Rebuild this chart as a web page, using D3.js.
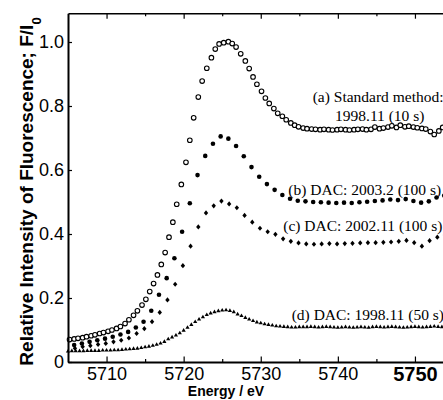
<!DOCTYPE html>
<html><head><meta charset="utf-8">
<script src="https://cdn.jsdelivr.net/npm/d3@7"></script>
<style>html,body{margin:0;padding:0;background:#fff;} svg{display:block;}</style>
</head><body>
<svg id="chart" width="443" height="400"></svg>
<script>
// ---------- DATA ----------
const xTicks = [5710, 5720, 5730, 5740, 5750];
const xMinorTicks = [5715, 5725, 5735, 5745];
const yTicks = [0, 0.2, 0.4, 0.6, 0.8, 1.0];
const yTickLabels = ["0", "0.2", "0.4", "0.6", "0.8", "1.0"];

// (a) Standard method: 1998.11 (10 s) — open circles
const energyA = [5705.2,5705.8,5706.3,5706.9,5707.4,5708.0,5708.5,5709.1,5709.6,5710.2,
  5710.7,5711.3,5711.8,5712.4,5712.9,5713.5,5714.0,5714.6,5715.1,5715.6,
  5716.1,5716.6,5717.1,5717.6,5718.1,5718.6,5719.1,5719.7,5720.3,5720.8,
  5721.3,5721.9,5722.4,5723.0,5723.6,5724.1,5724.6,5725.2,5725.8,5726.3,
  5726.8,5727.4,5728.0,5728.5,5729.0,5729.5,5730.1,5730.6,5731.1,5731.7,
  5732.2,5732.8,5733.3,5733.9,5734.4,5734.9,5735.5,5736.0,5736.6,5737.1,
  5737.7,5738.2,5738.8,5739.3,5739.9,5740.4,5741.0,5741.5,5742.1,5742.6,
  5743.2,5743.7,5744.3,5744.8,5745.4,5745.9,5746.5,5747.0,5747.6,5748.1,
  5748.7,5749.2,5749.8,5750.3,5750.9,5751.4,5752.0,5752.5,5753.1,5753.6];
const valueA = [0.070,0.072,0.074,0.076,0.079,0.082,0.085,0.089,0.092,0.096,
  0.100,0.105,0.111,0.120,0.132,0.146,0.160,0.178,0.196,0.220,
  0.245,0.272,0.305,0.342,0.390,0.437,0.493,0.555,0.624,0.693,
  0.763,0.828,0.878,0.918,0.951,0.978,0.994,0.998,1.001,0.995,
  0.984,0.963,0.941,0.917,0.891,0.868,0.846,0.825,0.808,0.792,
  0.777,0.768,0.757,0.747,0.740,0.735,0.731,0.729,0.728,0.727,
  0.726,0.727,0.726,0.725,0.726,0.727,0.726,0.725,0.726,0.727,
  0.728,0.726,0.727,0.734,0.729,0.731,0.734,0.738,0.733,0.740,
  0.735,0.737,0.734,0.732,0.730,0.728,0.720,0.711,0.722,0.733];

// (b) DAC: 2003.2 (100 s) — filled circles
const energyB = [5705.8,5706.8,5707.8,5708.8,5709.8,5710.8,5711.8,5712.8,5713.8,5714.8,
  5715.8,5716.8,5717.8,5718.8,5719.8,5720.8,5721.8,5722.8,5723.8,5724.8,
  5725.8,5726.8,5727.8,5728.8,5729.8,5730.8,5731.8,5732.8,5733.8,5734.8,
  5735.8,5736.8,5737.8,5738.8,5739.8,5740.8,5741.8,5742.8,5743.8,5744.8,
  5745.8,5746.8,5747.8,5748.8,5749.8,5750.8,5751.8,5752.8,5753.8];
const valueB = [0.053,0.058,0.063,0.068,0.073,0.079,0.086,0.094,0.108,0.126,
  0.160,0.210,0.262,0.324,0.407,0.496,0.584,0.644,0.682,0.705,
  0.698,0.675,0.643,0.609,0.579,0.556,0.538,0.522,0.510,0.504,
  0.502,0.500,0.499,0.498,0.497,0.498,0.497,0.499,0.501,0.503,
  0.505,0.508,0.506,0.509,0.503,0.498,0.502,0.514,0.520];

// (c) DAC: 2002.11 (100 s) — filled diamonds
const energyC = [5705.9,5706.9,5707.9,5708.9,5709.9,5710.9,5711.9,5712.9,5713.9,5714.9,
  5715.9,5716.9,5717.9,5718.9,5719.9,5720.9,5721.9,5722.9,5723.9,5724.9,
  5725.9,5726.9,5727.9,5728.9,5729.9,5730.9,5731.9,5732.9,5733.9,5734.9,
  5735.9,5736.9,5737.9,5738.9,5739.9,5740.9,5741.9,5742.9,5743.9,5744.9,
  5745.9,5746.9,5747.9,5748.9,5749.9,5750.9,5751.9,5752.9,5753.9];
const valueC = [0.043,0.048,0.051,0.055,0.058,0.063,0.068,0.075,0.089,0.104,
  0.126,0.155,0.194,0.243,0.301,0.362,0.422,0.466,0.488,0.503,
  0.494,0.482,0.458,0.437,0.418,0.407,0.399,0.385,0.377,0.372,
  0.369,0.368,0.369,0.370,0.369,0.370,0.371,0.372,0.373,0.373,
  0.374,0.375,0.377,0.380,0.373,0.362,0.379,0.390,0.397];

// (d) DAC: 1998.11 (50 s) — filled triangles
const energyD = [5705.0,5705.5,5706.0,5706.5,5707.0,5707.5,5708.0,5708.5,5709.0,5709.5,
  5710.0,5710.5,5711.0,5711.5,5712.0,5712.5,5713.0,5713.5,5714.0,5714.5,
  5715.0,5715.5,5716.0,5716.5,5717.0,5717.5,5718.0,5718.5,5719.0,5719.5,
  5720.0,5720.5,5721.0,5721.5,5722.0,5722.5,5723.0,5723.5,5724.0,5724.5,
  5725.0,5725.5,5726.0,5726.5,5727.0,5727.5,5728.0,5728.5,5729.0,5729.5,
  5730.0,5730.5,5731.0,5731.5,5732.0,5732.5,5733.0,5733.5,5734.0,5734.5,
  5735.0,5735.5,5736.0,5736.5,5737.0,5737.5,5738.0,5738.5,5739.0,5739.5,
  5740.0,5740.5,5741.0,5741.5,5742.0,5742.5,5743.0,5743.5,5744.0,5744.5,
  5745.0,5745.5,5746.0,5746.5,5747.0,5747.5,5748.0,5748.5,5749.0,5749.5,
  5750.0,5750.5,5751.0,5751.5,5752.0,5752.5,5753.0,5753.5];
const valueD = [0.034,0.035,0.035,0.035,0.035,0.036,0.036,0.036,0.036,0.037,
  0.037,0.037,0.038,0.038,0.039,0.040,0.041,0.042,0.043,0.045,
  0.047,0.049,0.052,0.055,0.059,0.064,0.072,0.078,0.084,0.091,
  0.099,0.108,0.117,0.126,0.134,0.141,0.148,0.153,0.157,0.160,
  0.162,0.163,0.161,0.157,0.150,0.145,0.139,0.134,0.129,0.125,
  0.122,0.119,0.117,0.115,0.113,0.112,0.111,0.110,0.109,0.109,
  0.110,0.110,0.110,0.111,0.110,0.109,0.110,0.111,0.110,0.109,
  0.108,0.109,0.110,0.109,0.108,0.109,0.110,0.109,0.108,0.110,
  0.111,0.110,0.109,0.110,0.111,0.110,0.109,0.108,0.109,0.110,
  0.111,0.110,0.109,0.110,0.111,0.112,0.111,0.110];

const labelA1 = "(a) Standard method:";
const labelA2 = "1998.11 (10 s)";
const labelB = "(b) DAC: 2003.2 (100 s)";
const labelC = "(c) DAC: 2002.11 (100 s)";
const labelD = "(d) DAC: 1998.11 (50 s)";

// ---------- CHART ----------
const W = 443, H = 400;
const svg = d3.select("#chart");
svg.append("rect").attr("width", W).attr("height", H).attr("fill", "#fff");

const x = d3.scaleLinear().domain([5705, 5755]).range([68, 453.5]);
const y = d3.scaleLinear().domain([0, 1.09]).range([362, 13.2]);

const pts = (E, V) => E.map((e, i) => ({ e, v: V[i] }));
const sans = "'Liberation Sans', Arial, Helvetica, sans-serif";
const serif = "'Liberation Serif', 'Times New Roman', serif";

// (d) triangles
svg.append("g").selectAll("path").data(pts(energyD, valueD)).join("path")
  .attr("transform", d => `translate(${x(d.e)},${y(d.v)})`)
  .attr("d", "M0,-2.2L2.1,1.4L-2.1,1.4Z").attr("fill", "#000");
// (c) diamonds
svg.append("g").selectAll("path").data(pts(energyC, valueC)).join("path")
  .attr("transform", d => `translate(${x(d.e)},${y(d.v)})`)
  .attr("d", "M0,-2.6L2.2,0L0,2.6L-2.2,0Z").attr("fill", "#000");
// (b) filled circles
svg.append("g").selectAll("circle").data(pts(energyB, valueB)).join("circle")
  .attr("cx", d => x(d.e)).attr("cy", d => y(d.v)).attr("r", 2.3).attr("fill", "#000");
// (a) open circles
svg.append("g").selectAll("circle").data(pts(energyA, valueA)).join("circle")
  .attr("cx", d => x(d.e)).attr("cy", d => y(d.v)).attr("r", 2.3)
  .attr("fill", "#fff").attr("stroke", "#000").attr("stroke-width", 1.1);

// axes
const gx = svg.append("g").attr("transform", `translate(0,${y(0)})`)
  .call(d3.axisBottom(x).tickValues(xTicks).tickSize(-5.5).tickSizeOuter(0).tickPadding(5).tickFormat(d3.format("d")));
gx.attr("font-family", sans).attr("font-size", 18);
gx.select(".domain").attr("stroke-width", 2);
gx.selectAll(".tick line").attr("stroke-width", 1.2);
gx.selectAll(".tick text").attr("fill", "#000");
gx.selectAll(".tick text").filter(d => d === 5750).attr("font-weight", "bold").attr("font-size", 20);

const gxm = svg.append("g").attr("transform", `translate(0,${y(0)})`)
  .call(d3.axisBottom(x).tickValues(xMinorTicks).tickSize(-3).tickFormat(""));
gxm.select(".domain").remove();
gxm.selectAll(".tick line").attr("stroke-width", 1.2);

const gt = svg.append("g").attr("transform", `translate(0,${y(1.09)})`)
  .call(d3.axisTop(x).tickValues(xTicks).tickSize(-5.5).tickSizeOuter(0).tickFormat(""));
gt.select(".domain").attr("stroke-width", 1.5);
gt.selectAll(".tick line").attr("stroke-width", 1.2);
const gtm = svg.append("g").attr("transform", `translate(0,${y(1.09)})`)
  .call(d3.axisTop(x).tickValues(xMinorTicks).tickSize(-3).tickFormat(""));
gtm.select(".domain").remove();
gtm.selectAll(".tick line").attr("stroke-width", 1.2);

const gy = svg.append("g").attr("transform", `translate(${x(5705)},0)`)
  .call(d3.axisLeft(y).tickValues(yTicks).tickSize(-4).tickSizeOuter(0).tickPadding(4)
    .tickFormat((d, i) => yTickLabels[i]));
gy.attr("font-family", sans).attr("font-size", 18);
gy.select(".domain").attr("stroke-width", 2);
gy.selectAll(".tick line").attr("stroke-width", 1.2);
gy.selectAll(".tick text").attr("fill", "#000");

// axis titles
const yl = svg.append("text").attr("transform", "translate(33,191.5) rotate(-90)")
  .attr("text-anchor", "middle").attr("font-family", sans).attr("font-weight", "bold")
  .attr("font-size", 19).attr("fill", "#000");
yl.append("tspan").text("Relative Intensity of Fluorescence; F/I");
yl.append("tspan").attr("baseline-shift", "sub").attr("font-size", 13).text("0");

svg.append("text").attr("x", 226).attr("y", 396).attr("text-anchor", "middle")
  .attr("font-family", sans).attr("font-weight", "bold").attr("font-size", 14)
  .attr("fill", "#000").text("Energy / eV");

// series labels
const lab = (t, lx, ly) => svg.append("text").attr("x", lx).attr("y", ly)
  .attr("font-family", serif).attr("font-size", 15.5).attr("fill", "#000").text(t);
lab(labelA1, 312.7, 101.7);
lab(labelA2, 335, 120.5);
lab(labelB, 288.3, 195);
lab(labelC, 283.3, 231);
lab(labelD, 291.7, 320);
</script>
</body></html>
